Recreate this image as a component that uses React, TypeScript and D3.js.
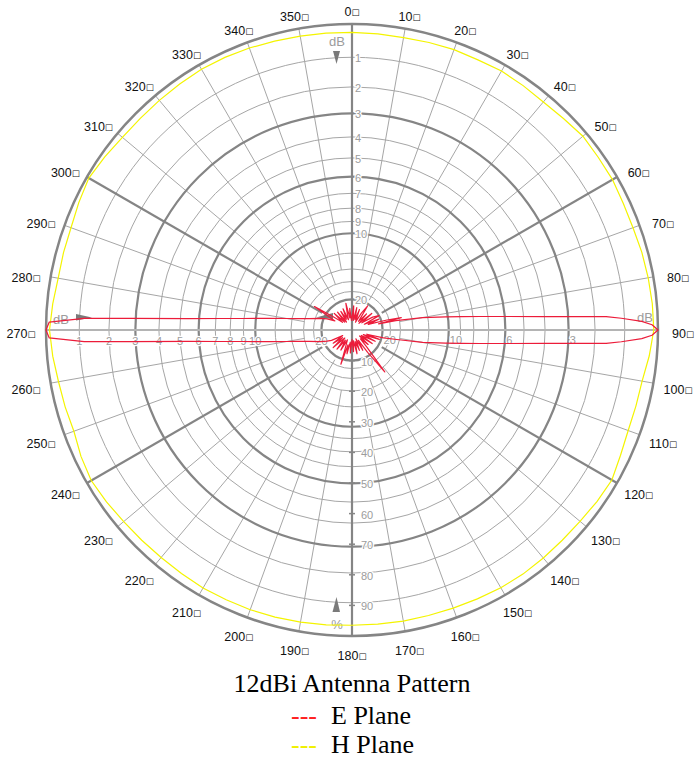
import React from 'react';
import * as d3 from 'd3';

const W = 696;
const H = 759;
const CX = 352;
const CY = 330;
const R = 306;

// grid rings in dB below max
const gridDb = [1, 2, 3, 4, 5, 6, 7, 8, 9, 10, 12, 14, 16, 18, 20];
const thickDb = [3, 6, 10, 20];
const topDbLabels = [1, 2, 3, 4, 5, 6, 7, 8, 9, 10, 20];
const leftDbLabels = [1, 2, 3, 4, 5, 6, 7, 8, 9, 10, 20];
const rightDbLabels = [3, 6, 10, 20];
const pctLabels = [10, 20, 30, 40, 50, 60, 70, 80, 90];
const angleLabels = [0, 10, 20, 30, 40, 50, 60, 70, 80, 90, 100, 110, 120, 130, 140, 150, 160, 170,
  180, 190, 200, 210, 220, 230, 240, 250, 260, 270, 280, 290, 300, 310, 320, 330, 340, 350];
const thickSpokes = [60, 120, 240, 300];

// E plane (red): angle in degrees, gain in dB
const eAngles = [0, 4, 8, 12, 16, 20, 24, 29, 33, 37, 42, 46, 50, 54, 58, 62, 65, 68, 71, 74, 76, 77, 78,
  80, 82, 83, 84, 85, 86, 87, 87.5, 88.3, 89, 90, 91, 91.7, 92.5, 93, 94, 95, 96, 97, 98, 100,
  102, 104, 106, 109, 112, 116, 120, 124, 128, 132, 136, 139, 142, 145, 148, 152, 156, 160, 164,
  168, 172, 176, 180, 184, 188, 192, 195, 198, 201, 205, 209, 213, 218, 222, 227, 231, 235, 239, 243,
  246, 250, 255, 258, 260, 262, 264, 265, 266, 267, 267.5, 268.5, 270, 271.5, 272.5, 273, 274, 275,
  276, 278, 280, 282, 285, 290, 294, 298, 302, 305, 309, 313, 317, 321, 325, 329, 333, 337, 341,
  344, 347, 350, 354, 357];
const eGain = [-28, -22, -30, -22.5, -29, -23, -31, -24, -20.5, -29, -23, -30, -21.5, -28, -22, -20, -27, -20.5, -25, -18.5, -15.6, -21, -16.7,
  -12.6, -10.2, -8.9, -7.5, -5.9, -4.0, -1.6, -1.1, -0.47, -0.17, 0, -0.17, -0.47, -1.1, -1.6, -4.0, -5.9, -7.5, -8.9, -10.2, -12.6,
  -16.5, -19.5, -26, -20.5, -28, -21.5, -29, -22, -30, -23, -28, -22.5, -15.2, -21, -28, -22.5, -30, -23, -28,
  -22, -29, -23, -30, -22.5, -28, -22, -26, -18.6, -25, -29, -22.5, -28, -22, -29, -21.5, -28, -22.5, -29, -22.5,
  -21, -19.1, -16.8, -14.9, -13.3, -11.3, -8.9, -7.3, -5.4, -2.8, -1.15, -0.09, 0, -0.09, -1.15, -2.8, -5.4, -7.3,
  -8.9, -11.3, -13.3, -14.9, -16.8, -19.1, -21, -24, -16.8, -22.5, -28, -22, -29, -22.5, -30, -23, -28, -22.5, -29,
  -25, -21, -28, -23, -30];

// H plane (yellow)
const hAngles = [0, 5, 10, 15, 20, 25, 30, 35, 40, 45, 50, 55, 60, 65, 70, 75, 80, 85, 90, 95, 100, 105, 110, 115,
  120, 125, 130, 135, 140, 145, 150, 155, 160, 165, 170, 175, 180, 185, 190, 195, 200, 205, 210, 215, 220, 225,
  230, 235, 240, 245, 250, 255, 260, 265, 270, 275, 280, 285, 290, 295, 300, 305, 310, 315, 320, 325, 330, 335,
  340, 345, 350, 355];
const hGain = [-0.24, -0.25, -0.26, -0.24, -0.22, -0.23, -0.2, -0.22, -0.24, -0.2, -0.13, -0.15, -0.15, -0.19, -0.2, -0.17, -0.15, -0.13,
  -0.12, -0.22, -0.33, -0.35, -0.35, -0.28, -0.17, -0.2, -0.24, -0.25, -0.24, -0.23, -0.24, -0.27, -0.29, -0.3, -0.3, -0.31,
  -0.31, -0.29, -0.27, -0.25, -0.24, -0.24, -0.23, -0.25, -0.26, -0.25, -0.23, -0.18, -0.14, -0.2, -0.29, -0.26, -0.23, -0.16,
  -0.1, -0.16, -0.22, -0.21, -0.2, -0.13, -0.06, -0.12, -0.18, -0.19, -0.18, -0.16, -0.14, -0.15, -0.17, -0.2, -0.22, -0.23];

const amp = d3.scaleLinear().domain([0, 1]).range([0, R]);
const rDb = (db: number) => amp(Math.pow(10, -db / 20));
const rGain = (g: number) => amp(Math.pow(10, g / 20));
const rPct = (p: number) => amp(p / 100);
const rad = (deg: number) => (deg * Math.PI) / 180;

const radial = d3
  .lineRadial<[number, number]>()
  .angle((d) => rad(d[0]))
  .radius((d) => rGain(d[1]))
  .curve(d3.curveLinearClosed);

const ePts: [number, number][] = eAngles.map((a, i) => [a, eGain[i]]);
const hPts: [number, number][] = hAngles.map((a, i) => [a, hGain[i]]);

const THIN = '#a6a6a6';
const THICK = '#858585';
const LABEL = '#9c9c9c';
const SANS = 'Liberation Sans, Arial, sans-serif';
const SERIF = 'Liberation Serif, Times New Roman, serif';

function spokeStart(a: number) {
  if (a % 90 === 0) return 0;
  if (a % 30 === 0) return rDb(19);
  if (a % 20 === 0) return rDb(16);
  return rDb(14);
}

export default function App() {
  const halo = { paintOrder: 'stroke' as const, stroke: '#fff', strokeWidth: 2.5 };
  return (
    <svg width={W} height={H} style={{ position: 'absolute', left: 0, top: 0, background: '#fff' }}>
      <g transform={`translate(${CX},${CY})`}>
        {/* thin rings */}
        {gridDb.filter((d) => !thickDb.includes(d)).map((d) => (
          <circle key={'c' + d} r={rDb(d)} fill="none" stroke={THIN} strokeWidth={1} />
        ))}
        {/* spokes */}
        {angleLabels.filter((a) => a % 90 !== 0 && !thickSpokes.includes(a)).map((a) => {
          const r0 = spokeStart(a);
          return (
            <line key={'s' + a} x1={r0 * Math.sin(rad(a))} y1={-r0 * Math.cos(rad(a))}
              x2={R * Math.sin(rad(a))} y2={-R * Math.cos(rad(a))} stroke={THIN} strokeWidth={1} />
          );
        })}
        {thickDb.map((d) => (
          <circle key={'t' + d} r={rDb(d)} fill="none" stroke={THICK} strokeWidth={2.2} />
        ))}
        {thickSpokes.map((a) => {
          const r0 = rDb(19);
          return (
            <line key={'ts' + a} x1={r0 * Math.sin(rad(a))} y1={-r0 * Math.cos(rad(a))}
              x2={R * Math.sin(rad(a))} y2={-R * Math.cos(rad(a))} stroke={THICK} strokeWidth={2.2} />
          );
        })}
        {/* axes */}
        <line x1={-R} y1={0} x2={R} y2={0} stroke="#b4b4b4" strokeWidth={2.2} />
        <line x1={0} y1={-R} x2={0} y2={R} stroke={THICK} strokeWidth={2.2} />
        <circle r={R} fill="none" stroke={THICK} strokeWidth={2.5} />

        {/* pct ticks */}
        {pctLabels.map((p) => (
          <line key={'pt' + p} x1={-3} x2={3} y1={rPct(p)} y2={rPct(p)} stroke={THICK} strokeWidth={1.5} />
        ))}

        {/* tick labels */}
        <g fontFamily={SANS} fontSize={11} fill={LABEL}>
          {topDbLabels.map((d) => (
            <text key={'tl' + d} x={3} y={-rDb(d) + 1} dominantBaseline="central" style={halo}>{d}</text>
          ))}
          {leftDbLabels.map((d) => (
            <text key={'ll' + d} x={-rDb(d)} y={11} textAnchor="middle" dominantBaseline="central" style={halo}>{d}</text>
          ))}
          {rightDbLabels.map((d) => (
            <text key={'rl' + d} x={rDb(d) + 1} y={10} dominantBaseline="central" style={halo}>{d}</text>
          ))}
          {pctLabels.map((p) => (
            <text key={'pl' + p} x={9} y={rPct(p) + 1} dominantBaseline="central" style={halo}>{p}</text>
          ))}
          <text x={-15} y={-289} textAnchor="middle" dominantBaseline="central" fontSize={13}>dB</text>
          <text x={-291} y={-11} textAnchor="middle" dominantBaseline="central" fontSize={13}>dB</text>
          <text x={293} y={-13} textAnchor="middle" dominantBaseline="central" fontSize={13}>dB</text>
          <text x={-15} y={294} textAnchor="middle" dominantBaseline="central" fontSize={13}>%</text>
        </g>
        {/* markers */}
        <g fill="#7a7a7a">
          <polygon points="-19,-279 -12,-279 -15.5,-266" />
          <polygon points="-276,-16 -276,-9.5 -260,-12.5" />
          <polygon points="-36,-12.5 -19,-17 -19,-11" />
          <polygon points="-15.5,267 -19.5,282 -12,282" />
        </g>

        {/* data */}
        <path d={radial(hPts) || ''} fill="none" stroke="#f4f400" strokeWidth={1.2} />
        <path d={radial(ePts) || ''} fill="none" stroke="#ec1c3a" strokeWidth={1.2} strokeLinejoin="round" />
      </g>

      {/* angle labels */}
      <g fontFamily={SANS} fontSize={12.5} fill="#111">
        {angleLabels.map((a) => {
          const x = CX + 331 * Math.sin(rad(a));
          const y = 334 - 322 * Math.cos(rad(a));
          return (
            <text key={'al' + a} x={x} y={y} textAnchor="middle" dominantBaseline="central">
              {a}
              <tspan fontFamily="DejaVu Sans" fontSize={8.5}>□</tspan>
            </text>
          );
        })}
      </g>

      {/* title and legend */}
      <g fontFamily={SERIF} fontSize={26} fill="#000">
        <text x={352} y={692} textAnchor="middle">12dBi Antenna Pattern</text>
        <text x={291} y={724} fill="#ff2020">---</text>
        <text x={331} y={724}>E Plane</text>
        <text x={291} y={753} fill="#f0f000">---</text>
        <text x={331} y={753}>H Plane</text>
      </g>
    </svg>
  );
}
